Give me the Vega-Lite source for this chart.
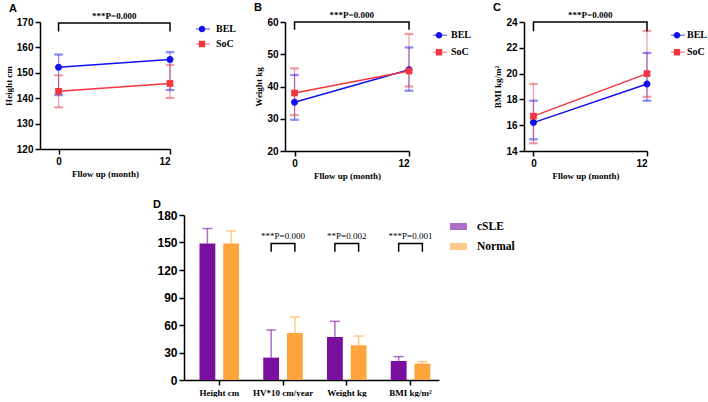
{
  "$schema": "https://vega.github.io/schema/vega-lite/v6.json",
  "padding": {"left": 4, "top": 2, "right": 0, "bottom": 0},
  "background": "white",
  "config": {
    "view": {"stroke": null},
    "axis": {"grid": false, "labelOverlap": false, "domainColor": "black", "domainWidth": 1.5, "tickColor": "black", "tickWidth": 1.5, "tickSize": 5, "labelColor": "black", "labelFont": "Liberation Sans", "labelFontWeight": "bold", "labelFontSize": 10, "labelPadding": 2, "titleFont": "Liberation Serif", "titleFontWeight": "bold", "titleFontSize": 9, "titleColor": "black", "titlePadding": 3},
    "title": {"anchor": "start", "frame": "group", "font": "Liberation Sans", "fontSize": 11, "fontWeight": "bold", "color": "black", "offset": -2, "dx": -31},
    "legend": {"padding": 0, "labelColor": "black", "labelFont": "Liberation Serif", "labelFontWeight": "bold"}
  },
  "datasets": {
    "A": [
      {"series": "BEL", "month": 0, "mean": 152.2, "lo": 141.2, "hi": 157.2},
      {"series": "BEL", "month": 12, "mean": 155.2, "lo": 143.2, "hi": 158.1},
      {"series": "SoC", "month": 0, "mean": 142.7, "lo": 136.4, "hi": 149.0},
      {"series": "SoC", "month": 12, "mean": 145.8, "lo": 140.1, "hi": 153.1}
    ],
    "B": [
      {"series": "BEL", "month": 0, "mean": 35.1, "lo": 29.7, "hi": 43.6},
      {"series": "BEL", "month": 12, "mean": 45.2, "lo": 38.7, "hi": 52.1},
      {"series": "SoC", "month": 0, "mean": 38.0, "lo": 31.1, "hi": 45.6},
      {"series": "SoC", "month": 12, "mean": 44.8, "lo": 40.0, "hi": 56.3}
    ],
    "C": [
      {"series": "BEL", "month": 0, "mean": 16.2, "lo": 14.9, "hi": 17.9},
      {"series": "BEL", "month": 12, "mean": 19.2, "lo": 17.9, "hi": 21.6},
      {"series": "SoC", "month": 0, "mean": 16.7, "lo": 14.6, "hi": 19.2},
      {"series": "SoC", "month": 12, "mean": 20.0, "lo": 18.2, "hi": 23.3}
    ],
    "bA": [{"month": 0, "y": 166.3, "o": 1}, {"month": 0, "y": 169.6, "o": 2}, {"month": 12, "y": 169.6, "o": 3}, {"month": 12, "y": 166.3, "o": 4}],
    "bB": [{"month": 0, "y": 57.6, "o": 1}, {"month": 0, "y": 60.0, "o": 2}, {"month": 12, "y": 60.0, "o": 3}, {"month": 12, "y": 57.6, "o": 4}],
    "bC": [{"month": 0, "y": 23.28, "o": 1}, {"month": 0, "y": 24.0, "o": 2}, {"month": 12, "y": 24.0, "o": 3}, {"month": 12, "y": 23.28, "o": 4}],
    "tA": [{"month": 6, "y": 169.6, "label": "***P=0.000"}],
    "tB": [{"month": 6, "y": 60.0, "label": "***P=0.000"}],
    "tC": [{"month": 6, "y": 24.0, "label": "***P=0.000"}],
    "D": [
      {"cat": "Height cm", "grp": "cSLE", "val": 148.8, "hi": 165.2},
      {"cat": "Height cm", "grp": "Normal", "val": 148.8, "hi": 162.6},
      {"cat": "HV*10 cm/year", "grp": "cSLE", "val": 24.4, "hi": 54.5},
      {"cat": "HV*10 cm/year", "grp": "Normal", "val": 51.3, "hi": 68.7},
      {"cat": "Weight kg", "grp": "cSLE", "val": 46.9, "hi": 64.0},
      {"cat": "Weight kg", "grp": "Normal", "val": 37.9, "hi": 48.0},
      {"cat": "BMI kg/m²", "grp": "cSLE", "val": 20.7, "hi": 25.5},
      {"cat": "BMI kg/m²", "grp": "Normal", "val": 17.9, "hi": 20.0}
    ],
    "bD": [
      {"cat": "HV*10 cm/year", "grp": "cSLE", "y": 140, "o": 1},
      {"cat": "HV*10 cm/year", "grp": "cSLE", "y": 149, "o": 2},
      {"cat": "HV*10 cm/year", "grp": "Normal", "y": 149, "o": 3},
      {"cat": "HV*10 cm/year", "grp": "Normal", "y": 140, "o": 4},
      {"cat": "Weight kg", "grp": "cSLE", "y": 140, "o": 1},
      {"cat": "Weight kg", "grp": "cSLE", "y": 149, "o": 2},
      {"cat": "Weight kg", "grp": "Normal", "y": 149, "o": 3},
      {"cat": "Weight kg", "grp": "Normal", "y": 140, "o": 4},
      {"cat": "BMI kg/m²", "grp": "cSLE", "y": 140, "o": 1},
      {"cat": "BMI kg/m²", "grp": "cSLE", "y": 149, "o": 2},
      {"cat": "BMI kg/m²", "grp": "Normal", "y": 149, "o": 3},
      {"cat": "BMI kg/m²", "grp": "Normal", "y": 140, "o": 4}
    ],
    "tD": [
      {"cat": "HV*10 cm/year", "y": 149, "label": "***P=0.000"},
      {"cat": "Weight kg", "y": 149, "label": "**P=0.002"},
      {"cat": "BMI kg/m²", "y": 149, "label": "***P=0.001"}
    ],
    "sp": [{"k": 1}]
  },
  "bounds": "full",
  "spacing": 19,
  "resolve": {"scale": {"color": "independent", "shape": "independent", "stroke": "independent"}, "legend": {"color": "independent", "shape": "independent", "stroke": "independent"}},
  "vconcat": [
    {
      "bounds": "flush",
      "spacing": 115,
      "resolve": {"scale": {"color": "independent", "shape": "independent", "stroke": "independent"}, "legend": {"color": "independent", "shape": "independent", "stroke": "independent"}},
      "hconcat": [
        {
          "width": 130, "height": 127,
          "title": {"text": "A"},
          "data": {"name": "A"},
          "layer": [
            {"mark": {"type": "line", "strokeWidth": 1.5},
             "encoding": {
               "x": {"field": "month", "type": "quantitative", "scale": {"domain": [-1.1, 12]}, "axis": {"values": [0, 12], "title": "Fllow up (month)"}},
               "y": {"field": "mean", "type": "quantitative", "scale": {"domain": [120, 170]}, "axis": {"values": [120, 130, 140, 150, 160, 170], "title": "Height cm", "labelOverlap": false}},
               "stroke": {"field": "series", "type": "nominal", "scale": {"domain": ["SoC", "BEL"], "range": ["#F2353F", "#1010F0"]},
                          "legend": {"values": ["BEL", "SoC"], "orient": "none", "legendX": 155, "legendY": -0.5, "title": null, "symbolType": "stroke", "symbolSize": 196, "symbolStrokeWidth": 1.5, "symbolOpacity": 1, "labelFontSize": 10, "rowPadding": 0, "clipHeight": 15, "labelOffset": 7, "labelExpr": "''"}}}},
            {"mark": {"type": "rule", "strokeWidth": 1.2, "opacity": 0.5},
             "encoding": {
               "x": {"field": "month", "type": "quantitative", "axis": {"values": [0, 12], "title": "Fllow up (month)"}},
               "y": {"field": "lo", "type": "quantitative", "axis": {"values": [120, 130, 140, 150, 160, 170], "title": "Height cm", "labelOverlap": false}},
               "y2": {"field": "hi"},
               "stroke": {"field": "series", "type": "nominal"}}},
            {"mark": {"type": "tick", "orient": "horizontal", "size": 8, "thickness": 1.2, "opacity": 0.5},
             "encoding": {"x": {"field": "month", "type": "quantitative", "axis": {"values": [0, 12], "title": "Fllow up (month)"}}, "y": {"field": "lo", "type": "quantitative", "axis": {"values": [120, 130, 140, 150, 160, 170], "title": "Height cm", "labelOverlap": false}}, "stroke": {"field": "series", "type": "nominal"}}},
            {"mark": {"type": "tick", "orient": "horizontal", "size": 8, "thickness": 1.2, "opacity": 0.5},
             "encoding": {"x": {"field": "month", "type": "quantitative", "axis": {"values": [0, 12], "title": "Fllow up (month)"}}, "y": {"field": "hi", "type": "quantitative", "axis": {"values": [120, 130, 140, 150, 160, 170], "title": "Height cm", "labelOverlap": false}}, "stroke": {"field": "series", "type": "nominal"}}},
            {"mark": {"type": "point", "filled": true, "opacity": 1, "size": 222, "strokeWidth": 0},
             "encoding": {"x": {"field": "month", "type": "quantitative", "axis": {"values": [0, 12], "title": "Fllow up (month)"}}, "y": {"field": "mean", "type": "quantitative", "axis": {"values": [120, 130, 140, 150, 160, 170], "title": "Height cm", "labelOverlap": false}},
               "shape": {"field": "series", "type": "nominal", "scale": {"domain": ["BEL", "SoC"], "range": ["M-0.47,0A0.47,0.47,0,1,0,0.47,0A0.47,0.47,0,1,0,-0.47,0Z", "M-0.45,-0.45H0.45V0.45H-0.45Z"]}, "legend": null},
               "color": {"field": "series", "type": "nominal", "scale": {"domain": ["BEL", "SoC"], "range": ["#1010F0", "#F2353F"]},
                         "legend": {"orient": "none", "legendX": 155, "legendY": -0.5, "title": null, "labelFontSize": 10, "symbolSize": 196, "symbolStrokeWidth": 0, "symbolOpacity": 1, "rowPadding": 0, "clipHeight": 15, "labelOffset": 7}}}},
            {"data": {"name": "bA"}, "mark": {"type": "line", "color": "black", "strokeWidth": 1.5},
             "encoding": {"x": {"field": "month", "type": "quantitative", "axis": {"values": [0, 12], "title": "Fllow up (month)"}}, "y": {"field": "y", "type": "quantitative", "axis": {"values": [120, 130, 140, 150, 160, 170], "title": "Height cm", "labelOverlap": false}}, "order": {"field": "o"}}},
            {"data": {"name": "tA"}, "mark": {"type": "text", "font": "Liberation Serif", "fontWeight": "bold", "fontSize": 9, "baseline": "bottom", "dy": -2, "color": "black"},
             "encoding": {"x": {"field": "month", "type": "quantitative", "axis": {"values": [0, 12], "title": "Fllow up (month)"}}, "y": {"field": "y", "type": "quantitative", "axis": {"values": [120, 130, 140, 150, 160, 170], "title": "Height cm", "labelOverlap": false}}, "text": {"field": "label"}}}
          ]
        },
        {
          "width": 124, "height": 129,
          "title": {"text": "B"},
          "data": {"name": "B"},
          "layer": [
            {"mark": {"type": "line", "strokeWidth": 1.5},
             "encoding": {
               "x": {"field": "month", "type": "quantitative", "scale": {"domain": [-0.85, 12]}, "axis": {"values": [0, 12], "title": "Fllow up (month)"}},
               "y": {"field": "mean", "type": "quantitative", "scale": {"domain": [20, 60]}, "axis": {"values": [20, 30, 40, 50, 60], "title": "Weight kg", "labelOverlap": false}},
               "stroke": {"field": "series", "type": "nominal", "scale": {"domain": ["SoC", "BEL"], "range": ["#F2353F", "#1010F0"]},
                          "legend": {"values": ["BEL", "SoC"], "orient": "none", "legendX": 147, "legendY": 5, "title": null, "symbolType": "stroke", "symbolSize": 196, "symbolStrokeWidth": 1.5, "symbolOpacity": 1, "labelFontSize": 10, "rowPadding": 0, "clipHeight": 16.5, "labelOffset": 5, "labelExpr": "''"}}}},
            {"mark": {"type": "rule", "strokeWidth": 1.2, "opacity": 0.5},
             "encoding": {
               "x": {"field": "month", "type": "quantitative", "axis": {"values": [0, 12], "title": "Fllow up (month)"}},
               "y": {"field": "lo", "type": "quantitative", "axis": {"values": [20, 30, 40, 50, 60], "title": "Weight kg", "labelOverlap": false}},
               "y2": {"field": "hi"},
               "stroke": {"field": "series", "type": "nominal"}}},
            {"mark": {"type": "tick", "orient": "horizontal", "size": 8, "thickness": 1.2, "opacity": 0.5},
             "encoding": {"x": {"field": "month", "type": "quantitative", "axis": {"values": [0, 12], "title": "Fllow up (month)"}}, "y": {"field": "lo", "type": "quantitative", "axis": {"values": [20, 30, 40, 50, 60], "title": "Weight kg", "labelOverlap": false}}, "stroke": {"field": "series", "type": "nominal"}}},
            {"mark": {"type": "tick", "orient": "horizontal", "size": 8, "thickness": 1.2, "opacity": 0.5},
             "encoding": {"x": {"field": "month", "type": "quantitative", "axis": {"values": [0, 12], "title": "Fllow up (month)"}}, "y": {"field": "hi", "type": "quantitative", "axis": {"values": [20, 30, 40, 50, 60], "title": "Weight kg", "labelOverlap": false}}, "stroke": {"field": "series", "type": "nominal"}}},
            {"mark": {"type": "point", "filled": true, "opacity": 1, "size": 222, "strokeWidth": 0},
             "encoding": {"x": {"field": "month", "type": "quantitative", "axis": {"values": [0, 12], "title": "Fllow up (month)"}}, "y": {"field": "mean", "type": "quantitative", "axis": {"values": [20, 30, 40, 50, 60], "title": "Weight kg", "labelOverlap": false}},
               "shape": {"field": "series", "type": "nominal", "scale": {"domain": ["BEL", "SoC"], "range": ["M-0.47,0A0.47,0.47,0,1,0,0.47,0A0.47,0.47,0,1,0,-0.47,0Z", "M-0.45,-0.45H0.45V0.45H-0.45Z"]}, "legend": null},
               "color": {"field": "series", "type": "nominal", "scale": {"domain": ["BEL", "SoC"], "range": ["#1010F0", "#F2353F"]},
                         "legend": {"orient": "none", "legendX": 147, "legendY": 5, "title": null, "labelFontSize": 10, "symbolSize": 196, "symbolStrokeWidth": 0, "symbolOpacity": 1, "rowPadding": 0, "clipHeight": 16.5, "labelOffset": 5}}}},
            {"data": {"name": "bB"}, "mark": {"type": "line", "color": "black", "strokeWidth": 1.5},
             "encoding": {"x": {"field": "month", "type": "quantitative", "axis": {"values": [0, 12], "title": "Fllow up (month)"}}, "y": {"field": "y", "type": "quantitative", "axis": {"values": [20, 30, 40, 50, 60], "title": "Weight kg", "labelOverlap": false}}, "order": {"field": "o"}}},
            {"data": {"name": "tB"}, "mark": {"type": "text", "font": "Liberation Serif", "fontWeight": "bold", "fontSize": 9, "baseline": "bottom", "dy": -2, "color": "black"},
             "encoding": {"x": {"field": "month", "type": "quantitative", "axis": {"values": [0, 12], "title": "Fllow up (month)"}}, "y": {"field": "y", "type": "quantitative", "axis": {"values": [20, 30, 40, 50, 60], "title": "Weight kg", "labelOverlap": false}}, "text": {"field": "label"}}}
          ]
        },
        {
          "width": 123, "height": 129,
          "title": {"text": "C"},
          "data": {"name": "C"},
          "layer": [
            {"mark": {"type": "line", "strokeWidth": 1.5},
             "encoding": {
               "x": {"field": "month", "type": "quantitative", "scale": {"domain": [-0.95, 12]}, "axis": {"values": [0, 12], "title": "Fllow up (month)"}},
               "y": {"field": "mean", "type": "quantitative", "scale": {"domain": [14, 24]}, "axis": {"values": [14, 16, 18, 20, 22, 24], "title": "BMI kg/m²", "labelOverlap": false}},
               "stroke": {"field": "series", "type": "nominal", "scale": {"domain": ["SoC", "BEL"], "range": ["#F2353F", "#1010F0"]},
                          "legend": {"values": ["BEL", "SoC"], "orient": "none", "legendX": 146, "legendY": 5, "title": null, "symbolType": "stroke", "symbolSize": 196, "symbolStrokeWidth": 1.5, "symbolOpacity": 1, "labelFontSize": 10, "rowPadding": 0, "clipHeight": 16.5, "labelOffset": 3, "labelExpr": "''"}}}},
            {"mark": {"type": "rule", "strokeWidth": 1.2, "opacity": 0.5},
             "encoding": {
               "x": {"field": "month", "type": "quantitative", "axis": {"values": [0, 12], "title": "Fllow up (month)"}},
               "y": {"field": "lo", "type": "quantitative", "axis": {"values": [14, 16, 18, 20, 22, 24], "title": "BMI kg/m²", "labelOverlap": false}},
               "y2": {"field": "hi"},
               "stroke": {"field": "series", "type": "nominal"}}},
            {"mark": {"type": "tick", "orient": "horizontal", "size": 8, "thickness": 1.2, "opacity": 0.5},
             "encoding": {"x": {"field": "month", "type": "quantitative", "axis": {"values": [0, 12], "title": "Fllow up (month)"}}, "y": {"field": "lo", "type": "quantitative", "axis": {"values": [14, 16, 18, 20, 22, 24], "title": "BMI kg/m²", "labelOverlap": false}}, "stroke": {"field": "series", "type": "nominal"}}},
            {"mark": {"type": "tick", "orient": "horizontal", "size": 8, "thickness": 1.2, "opacity": 0.5},
             "encoding": {"x": {"field": "month", "type": "quantitative", "axis": {"values": [0, 12], "title": "Fllow up (month)"}}, "y": {"field": "hi", "type": "quantitative", "axis": {"values": [14, 16, 18, 20, 22, 24], "title": "BMI kg/m²", "labelOverlap": false}}, "stroke": {"field": "series", "type": "nominal"}}},
            {"mark": {"type": "point", "filled": true, "opacity": 1, "size": 222, "strokeWidth": 0},
             "encoding": {"x": {"field": "month", "type": "quantitative", "axis": {"values": [0, 12], "title": "Fllow up (month)"}}, "y": {"field": "mean", "type": "quantitative", "axis": {"values": [14, 16, 18, 20, 22, 24], "title": "BMI kg/m²", "labelOverlap": false}},
               "shape": {"field": "series", "type": "nominal", "scale": {"domain": ["BEL", "SoC"], "range": ["M-0.47,0A0.47,0.47,0,1,0,0.47,0A0.47,0.47,0,1,0,-0.47,0Z", "M-0.45,-0.45H0.45V0.45H-0.45Z"]}, "legend": null},
               "color": {"field": "series", "type": "nominal", "scale": {"domain": ["BEL", "SoC"], "range": ["#1010F0", "#F2353F"]},
                         "legend": {"orient": "none", "legendX": 146, "legendY": 5, "title": null, "labelFontSize": 10, "symbolSize": 196, "symbolStrokeWidth": 0, "symbolOpacity": 1, "rowPadding": 0, "clipHeight": 16.5, "labelOffset": 3}}}},
            {"data": {"name": "bC"}, "mark": {"type": "line", "color": "black", "strokeWidth": 1.5},
             "encoding": {"x": {"field": "month", "type": "quantitative", "axis": {"values": [0, 12], "title": "Fllow up (month)"}}, "y": {"field": "y", "type": "quantitative", "axis": {"values": [14, 16, 18, 20, 22, 24], "title": "BMI kg/m²", "labelOverlap": false}}, "order": {"field": "o"}}},
            {"data": {"name": "tC"}, "mark": {"type": "text", "font": "Liberation Serif", "fontWeight": "bold", "fontSize": 9, "baseline": "bottom", "dy": -2, "color": "black"},
             "encoding": {"x": {"field": "month", "type": "quantitative", "axis": {"values": [0, 12], "title": "Fllow up (month)"}}, "y": {"field": "y", "type": "quantitative", "axis": {"values": [14, 16, 18, 20, 22, 24], "title": "BMI kg/m²", "labelOverlap": false}}, "text": {"field": "label"}}}
          ]
        }
      ]
    },
    {
      "bounds": "flush",
      "spacing": 10,
      "resolve": {"scale": {"color": "independent", "shape": "independent", "stroke": "independent"}, "legend": {"color": "independent", "shape": "independent", "stroke": "independent"}},
      "hconcat": [
        {"width": 134, "height": 1, "data": {"name": "sp"}, "mark": {"type": "point", "opacity": 0}, "encoding": {}},
        {
          "width": 255, "height": 165,
          "title": {"text": "D", "offset": -1},
          "layer": [
            {"data": {"name": "D"}, "mark": {"type": "bar"},
             "encoding": {
               "x": {"field": "cat", "type": "nominal", "scale": {"domain": ["Height cm", "HV*10 cm/year", "Weight kg", "BMI kg/m²"], "paddingInner": 0.38, "paddingOuter": 0.19, "align": 0.64},
                     "axis": {"title": null, "labelAngle": 0, "labelFont": "Liberation Serif", "labelFontSize": 9, "labelPadding": 3}},
               "xOffset": {"field": "grp", "type": "nominal", "scale": {"domain": ["cSLE", "Normal"], "paddingInner": 0.333, "paddingOuter": 0}},
               "y": {"field": "val", "type": "quantitative", "scale": {"domain": [0, 180]}, "axis": {"values": [0, 30, 60, 90, 120, 150, 180], "title": null, "labelFontSize": 12, "labelOverlap": false}},
               "color": {"field": "grp", "type": "nominal", "scale": {"domain": ["cSLE", "Normal"], "range": ["#7A0E9E", "#FFA53B"]},
                         "legend": {"orient": "none", "legendX": 266, "legendY": 3, "title": null, "labelFontSize": 11.5, "symbolType": "M-1,-0.41H1V0.41H-1Z", "symbolSize": 289, "symbolStrokeWidth": 0, "symbolOpacity": 1, "rowPadding": 6, "labelOffset": 10}}}},
            {"data": {"name": "D"}, "mark": {"type": "rule", "strokeWidth": 1.5, "opacity": 0.6},
             "encoding": {"x": {"field": "cat", "type": "nominal"}, "xOffset": {"field": "grp", "type": "nominal"}, "y": {"field": "val", "type": "quantitative", "axis": {"values": [0, 30, 60, 90, 120, 150, 180], "title": null, "labelFontSize": 12, "labelOverlap": false}}, "y2": {"field": "hi"}, "color": {"field": "grp", "type": "nominal"}}},
            {"data": {"name": "D"}, "mark": {"type": "tick", "size": 10, "thickness": 1.5, "opacity": 0.6},
             "encoding": {"x": {"field": "cat", "type": "nominal"}, "xOffset": {"field": "grp", "type": "nominal"}, "y": {"field": "hi", "type": "quantitative", "axis": {"values": [0, 30, 60, 90, 120, 150, 180], "title": null, "labelFontSize": 12, "labelOverlap": false}}, "color": {"field": "grp", "type": "nominal"}}},
            {"data": {"name": "bD"}, "mark": {"type": "line", "color": "black", "strokeWidth": 1.5},
             "encoding": {"x": {"field": "cat", "type": "nominal"}, "xOffset": {"field": "grp", "type": "nominal"}, "y": {"field": "y", "type": "quantitative", "axis": {"values": [0, 30, 60, 90, 120, 150, 180], "title": null, "labelFontSize": 12, "labelOverlap": false}}, "detail": {"field": "cat"}, "order": {"field": "o"}}},
            {"data": {"name": "tD"}, "mark": {"type": "text", "font": "Liberation Serif", "fontSize": 9, "baseline": "bottom", "dy": -2, "color": "black"},
             "encoding": {"x": {"field": "cat", "type": "nominal"}, "y": {"field": "y", "type": "quantitative", "axis": {"values": [0, 30, 60, 90, 120, 150, 180], "title": null, "labelFontSize": 12, "labelOverlap": false}}, "text": {"field": "label"}}}
          ]
        }
      ]
    }
  ]
}
